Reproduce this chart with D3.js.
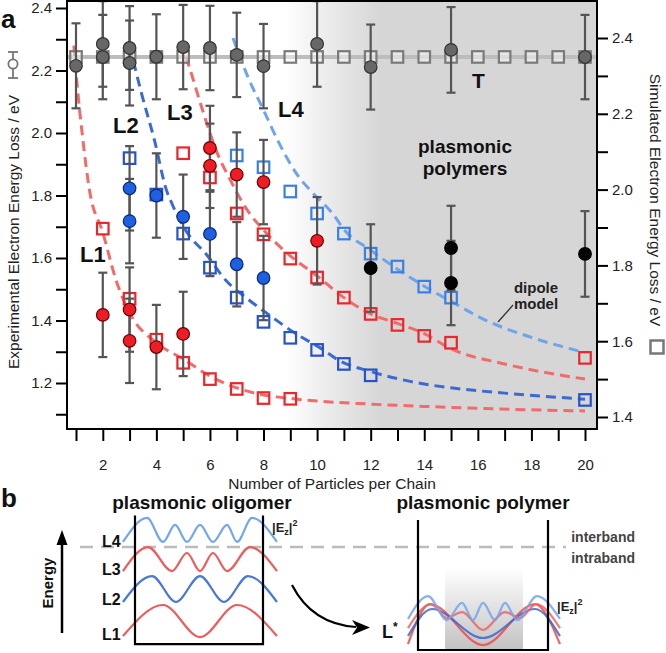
<!DOCTYPE html>
<html><head><meta charset="utf-8">
<script src="https://cdn.jsdelivr.net/npm/d3@7"></script>
<style>
body{margin:0;background:#fff}
svg{display:block}
text{font-family:"Liberation Sans",Arial,Helvetica,sans-serif}
</style>
</head><body>
<svg id="c" width="666" height="653"></svg>
<script>
// ---------------- DATA ----------------
const xTicks = [1,2,3,4,5,6,7,8,9,10,11,12,13,14,15,16,17,18,19,20];
const xTickLabels = [2,4,6,8,10,12,14,16,18,20];
const yLeftTicks = [1.1,1.2,1.3,1.4,1.5,1.6,1.7,1.8,1.9,2.0,2.1,2.2,2.3,2.4];
const yLeftLabels = [1.2,1.4,1.6,1.8,2.0,2.2,2.4];
const yRightTicks = [1.4,1.5,1.6,1.7,1.8,1.9,2.0,2.1,2.2,2.3,2.4];
const yRightLabels = [1.4,1.6,1.8,2.0,2.2,2.4];

// experimental (left axis), circles with error bars
const expT_n   = [1,2,2,3,3,4,5,6,7,8,10,12,15,20];
const expT_v   = [2.215,2.285,2.243,2.272,2.224,2.244,2.275,2.272,2.25,2.214,2.285,2.211,2.266,2.243];
const expT_e   = [0.136,0.137,0.135,0.134,0.136,0.136,0.135,0.135,0.135,0.135,0.137,0.136,0.137,0.135];
const expRed_n = [2,3,3,4,5,6,6,7,8,10];
const expRed_v = [1.418,1.435,1.335,1.315,1.357,1.952,1.895,1.867,1.843,1.655];
const expRed_e = [0.135,0.135,0.135,0.135,0.135,0.135,0.135,0.135,0.135,0.14];
const expBlue_n = [3,3,4,5,6,7,8];
const expBlue_v = [1.823,1.718,1.80,1.732,1.677,1.58,1.536];
const expBlue_e = [0.135,0.135,0.135,0.135,0.135,0.135,0.135];
const expBlack_n = [12,15,15,20];
const expBlack_v = [1.568,1.632,1.52,1.613];
const expBlack_e = [0.14,0.135,0.135,0.137];

// simulated (right axis), open squares
const simT_n  = [1,2,3,4,5,6,7,8,9,10,11,12,13,14,15,16,17,18,19,20];
const simT_v  = [2.35,2.35,2.35,2.35,2.35,2.35,2.35,2.35,2.35,2.35,2.35,2.35,2.35,2.35,2.35,2.35,2.35,2.35,2.35,2.35];
const simL1_n = [2,3,4,5,6,7,8,9];
const simL1_v = [1.897,1.712,1.604,1.543,1.50,1.474,1.45,1.448];
const simL2_n = [3,4,5,6,7,8,9,10,11,12,20];
const simL2_v = [2.083,1.987,1.884,1.794,1.715,1.651,1.609,1.577,1.54,1.51,1.445];
const simL3_n = [5,6,7,8,9,10,11,12,13,14,15,20];
const simL3_v = [2.096,2.032,1.937,1.882,1.818,1.768,1.715,1.672,1.643,1.614,1.596,1.556];
const simL4_n = [7,8,9,10,11,12,13,14,15];
const simL4_v = [2.09,2.059,1.995,1.937,1.884,1.831,1.797,1.744,1.715];

// dipole model curves (right axis)
const dipL1_n = [0.92,1.0,1.26,1.5,2,2.5,3,4,5,6,7,8,9,10,12,14,16,18,20];
const dipL1_v = [2.38,2.31,2.13,2.0,1.887,1.76,1.675,1.596,1.553,1.508,1.477,1.458,1.449,1.442,1.434,1.428,1.423,1.419,1.416];
const dipL2_n = [3.0,3.46,3.93,4.37,4.6,5.1,5.9,6.6,7.4,8.35,9.2,10.1,10.85,12,14,15,17,20];
const dipL2_v = [2.38,2.25,2.13,2.0,1.96,1.892,1.826,1.76,1.712,1.662,1.62,1.583,1.548,1.52,1.487,1.477,1.463,1.447];
const dipL3_n = [4.92,5.2,5.75,6.2,6.8,7.4,8,9,10,11,12,13,14,15,17,20];
const dipL3_v = [2.39,2.33,2.204,2.109,2.02,1.945,1.893,1.825,1.772,1.715,1.672,1.647,1.62,1.58,1.54,1.50];
const dipL4_n = [6.86,7.4,8,8.6,9.25,9.85,10.6,11,12,13,14,15,16.3,18,20];
const dipL4_v = [2.4,2.3,2.21,2.12,2.04,1.99,1.935,1.895,1.84,1.79,1.745,1.705,1.655,1.61,1.57];

// panel b schematic waves: position along chain (0..1) and schematic energy (0..1)
const oligo_levels = ["L1","L2","L3","L4"];
const oL1_u = [-0.094,0.219,0.508,0.797,1.109];
const oL1_e = [0.101,0.326,0.094,0.326,0.101];
const oL2_u = [-0.094,0.133,0.320,0.508,0.695,0.883,1.109];
const oL2_e = [0.348,0.536,0.348,0.536,0.348,0.536,0.348];
const oL3_u = [-0.094,0.102,0.289,0.406,0.508,0.609,0.719,0.898,1.109];
const oL3_e = [0.572,0.746,0.572,0.703,0.572,0.703,0.572,0.746,0.572];
const oL4_u = [-0.094,0.094,0.219,0.313,0.406,0.508,0.609,0.719,0.797,0.914,1.109];
const oL4_e = [0.783,0.957,0.783,0.906,0.783,0.906,0.783,0.906,0.783,0.957,0.783];
const pA_u = [-0.077,0.077,0.223,0.338,0.423,0.5,0.592,0.669,0.762,0.915,1.092];
const pA_e = [0.225,0.391,0.217,0.341,0.217,0.341,0.217,0.341,0.217,0.391,0.225];
const pB_u = [-0.077,0.108,0.5,0.9,1.092];
const pB_e = [0.101,0.297,0.087,0.297,0.101];
const pR1_u = [-0.077,0.092,0.5,0.9,1.092];
const pR1_e = [0.043,0.333,0.036,0.333,0.043];
const pR2_u = [-0.077,0.1,0.223,0.338,0.5,0.669,0.785,0.908,1.092];
const pR2_e = [0.159,0.333,0.232,0.275,0.145,0.275,0.232,0.333,0.159];

// ---------------- DRAW ----------------
const svg = d3.select("#c");
const P = {l:67, r:597, t:1, b:429};
const x  = d3.scaleLinear().domain([1,20]).range([76,585]);
const yL = d3.scaleLinear().domain([1.2,2.4]).range([383,8]);
const yR = d3.scaleLinear().domain([1.4,2.4]).range([417,38]);
const zip = (a,b,c) => a.map((d,i)=>c?[d,b[i],c[i]]:[d,b[i]]);

const defs = svg.append("defs");
const g1 = defs.append("linearGradient").attr("id","shade")
  .attr("gradientUnits","userSpaceOnUse").attr("x1",x(8.8)).attr("x2",x(12.4)).attr("y1",0).attr("y2",0);
g1.append("stop").attr("offset",0).attr("stop-color","#ffffff");
g1.append("stop").attr("offset",0.5).attr("stop-color","#e9e9e9");
g1.append("stop").attr("offset",1).attr("stop-color","#d6d6d6");
defs.append("clipPath").attr("id","clip").append("rect")
  .attr("x",P.l).attr("y",P.t).attr("width",P.r-P.l).attr("height",P.b-P.t);
const g2 = defs.append("linearGradient").attr("id","vshade").attr("x1",0).attr("x2",0).attr("y1",0).attr("y2",1);
g2.append("stop").attr("offset",0).attr("stop-color","#ffffff");
g2.append("stop").attr("offset",1).attr("stop-color","#c2c2c2");

svg.append("rect").attr("x",P.l).attr("y",P.t).attr("width",P.r-P.l).attr("height",P.b-P.t).attr("fill","url(#shade)");

const plot = svg.append("g").attr("clip-path","url(#clip)");

plot.append("line").attr("x1",P.l).attr("x2",P.r).attr("y1",yR(2.35)).attr("y2",yR(2.35))
  .attr("stroke","#bdbdbd").attr("stroke-width",4);

const lineR = d3.line().x(d=>x(d[0])).y(d=>yR(d[1])).curve(d3.curveMonotoneX);
[[dipL1_n,dipL1_v,"#f26b6b"],[dipL2_n,dipL2_v,"#3b6bd2"],[dipL3_n,dipL3_v,"#f26b6b"],[dipL4_n,dipL4_v,"#6fa4ec"]]
 .forEach(([n,v,c])=>{
  plot.append("path").attr("d",lineR(zip(n,v))).attr("fill","none").attr("stroke",c)
   .attr("stroke-width",3).attr("stroke-dasharray","10,6");
 });

const sq = 11.5;
function squares(n,v,color,fill,fo){
  plot.append("g").selectAll("rect").data(zip(n,v)).join("rect")
   .attr("x",d=>x(d[0])-sq/2).attr("y",d=>yR(d[1])-sq/2).attr("width",sq).attr("height",sq)
   .attr("fill",fill).attr("fill-opacity",fo).attr("stroke",color).attr("stroke-width",2.2);
}
squares(simT_n,simT_v,"#7a7a7a","#ffffff",0.45);
squares(simL1_n,simL1_v,"#e8262b","none",1);
squares(simL3_n,simL3_v,"#e8262b","none",1);
squares(simL2_n,simL2_v,"#2453cc","none",1);
squares(simL4_n,simL4_v,"#3a80e4","none",1);

function expSeries(n,v,e){
  const d = zip(n,v,e);
  const g = plot.append("g");
  g.selectAll("line.v").data(d).join("line").attr("class","v")
   .attr("x1",d=>x(d[0])).attr("x2",d=>x(d[0])).attr("y1",d=>yL(d[1]-d[2])).attr("y2",d=>yL(d[1]+d[2]))
   .attr("stroke","#555").attr("stroke-width",2.2);
  [1,-1].forEach(s=>{
    g.selectAll("line.c"+(s>0?"p":"m")).data(d).join("line").attr("class","c"+(s>0?"p":"m"))
     .attr("x1",d=>x(d[0])-4.5).attr("x2",d=>x(d[0])+4.5)
     .attr("y1",d=>yL(d[1]+s*d[2])).attr("y2",d=>yL(d[1]+s*d[2]))
     .attr("stroke","#555").attr("stroke-width",2.2);
  });
}
expSeries(expT_n,expT_v,expT_e);
expSeries(expRed_n,expRed_v,expRed_e);
expSeries(expBlue_n,expBlue_v,expBlue_e);
expSeries(expBlack_n,expBlack_v,expBlack_e);
function dots(n,v,fill,stroke){
  plot.append("g").selectAll("circle").data(zip(n,v)).join("circle")
   .attr("cx",d=>x(d[0])).attr("cy",d=>yL(d[1])).attr("r",6.3)
   .attr("fill",fill).attr("stroke",stroke).attr("stroke-width",1.2);
}
dots(expT_n,expT_v,"#676767","#333");
dots(expRed_n,expRed_v,"#ee1c24","#6a0000");
dots(expBlue_n,expBlue_v,"#1f5fe2","#0b2a7a");
dots(expBlack_n,expBlack_v,"#050505","#000");

svg.append("rect").attr("x",P.l).attr("y",P.t).attr("width",P.r-P.l).attr("height",P.b-P.t)
  .attr("fill","none").attr("stroke","#000").attr("stroke-width",2);

const fmt = d3.format(".1f");
const has = (arr,d)=>arr.some(a=>Math.abs(a-d)<1e-6);
const axL = svg.append("g").attr("transform",`translate(${P.l},0)`)
  .call(d3.axisLeft(yL).tickValues(yLeftTicks).tickSize(11).tickSizeOuter(0).tickPadding(4)
   .tickFormat(d=>has(yLeftLabels,d)?fmt(d):""));
const axR = svg.append("g").attr("transform",`translate(${P.r},0)`)
  .call(d3.axisRight(yR).tickValues(yRightTicks).tickSize(11).tickSizeOuter(0).tickPadding(4)
   .tickFormat(d=>has(yRightLabels,d)?fmt(d):""));
const axB = svg.append("g").attr("transform",`translate(0,${P.b})`)
  .call(d3.axisBottom(x).tickValues(xTicks).tickSize(12).tickSizeOuter(0).tickPadding(18)
   .tickFormat(d=>xTickLabels.includes(d)?d:""));
[axL,axR,axB].forEach(a=>{
  a.select(".domain").remove();
  a.selectAll(".tick line").attr("stroke","#000").attr("stroke-width",2);
  a.selectAll(".tick text").attr("font-size",15).attr("fill","#222")
    .style("font-family","'Liberation Sans',Arial,sans-serif");
});

svg.append("text").attr("transform","translate(19,232) rotate(-90)").attr("text-anchor","middle")
  .attr("font-size",15.5).attr("fill","#222").text("Experimental Electron Energy Loss / eV");
const sym = svg.append("g").attr("stroke","#777").attr("stroke-width",1.8);
sym.append("line").attr("x1",13).attr("x2",13).attr("y1",52).attr("y2",78);
sym.append("line").attr("x1",8).attr("x2",18).attr("y1",52).attr("y2",52);
sym.append("line").attr("x1",8).attr("x2",18).attr("y1",78).attr("y2",78);
sym.append("circle").attr("cx",13).attr("cy",64).attr("r",4.6).attr("fill","#fff");

svg.append("text").attr("transform","translate(650,200) rotate(90)").attr("text-anchor","middle")
  .attr("font-size",15.5).attr("fill","#222").text("Simulated Electron Energy Loss / eV");
svg.append("rect").attr("x",650.5).attr("y",340.5).attr("width",13).attr("height",13)
  .attr("fill","#fff").attr("stroke","#777").attr("stroke-width",2.5);

svg.append("text").attr("x",332).attr("y",489).attr("text-anchor","middle")
  .attr("font-size",15.5).attr("fill","#222").text("Number of Particles per Chain");

const bold = (t,xx,yy,fs,anchor,fill)=>svg.append("text").attr("x",xx).attr("y",yy)
  .attr("font-size",fs).attr("font-weight","bold").attr("text-anchor",anchor||"start")
  .attr("fill",fill||"#111").text(t);
bold("a",1,28,26);
bold("L1",80,262,22);
bold("L2",113,133,22);
bold("L3",167,120,22);
bold("L4",278,117,22);
bold("T",472,88,21);
bold("plasmonic",465,153,19,"middle");
bold("polymers",465,175,19,"middle");
bold("dipole",536,293,15,"middle","#222");
bold("model",536,309,15,"middle","#222");
svg.append("line").attr("x1",513).attr("y1",305).attr("x2",498).attr("y2",322)
  .attr("stroke","#333").attr("stroke-width",1.3);

// ---------------- PANEL B ----------------
const xo = d3.scaleLinear().domain([0,1]).range([135,263]);
const xp = d3.scaleLinear().domain([0,1]).range([418,548]);
const yb = d3.scaleLinear().domain([0,1]).range([650,512]);

bold("b",1,507,26);
bold("plasmonic oligomer",202,509,19,"middle");
bold("plasmonic polymer",483,509,19,"middle");

svg.append("rect").attr("x",xp(0.208)).attr("width",xp(0.808)-xp(0.208))
  .attr("y",yb(0.6)).attr("height",yb(0)-yb(0.6)).attr("fill","url(#vshade)");

svg.append("line").attr("x1",80).attr("x2",566).attr("y1",yb(0.746)).attr("y2",yb(0.746))
  .attr("stroke","#bcbcbc").attr("stroke-width",2.5).attr("stroke-dasharray","13,8");

const lo = d3.line().x(d=>xo(d[0])).y(d=>yb(d[1])).curve(d3.curveMonotoneX);
const lp = d3.line().x(d=>xp(d[0])).y(d=>yb(d[1])).curve(d3.curveMonotoneX);
[[oL1_u,oL1_e,"#ef5b5b"],[oL2_u,oL2_e,"#4a78d9"],[oL3_u,oL3_e,"#ef5b5b"],[oL4_u,oL4_e,"#74a6ee"]]
 .forEach(([u,e,c])=>svg.append("path").attr("d",lo(zip(u,e))).attr("fill","none")
   .attr("stroke",c).attr("stroke-width",2.2));
[[pR1_u,pR1_e,"#ef4a4a"],[pB_u,pB_e,"#3e67cc"],[pR2_u,pR2_e,"#f06464"],[pA_u,pA_e,"#72a3ec"]]
 .forEach(([u,e,c])=>svg.append("path").attr("d",lp(zip(u,e))).attr("fill","none")
   .attr("stroke",c).attr("stroke-width",2.2).attr("stroke-opacity",0.85));

svg.append("path").attr("d",`M${xo(0)},${yb(0.975)}V${yb(0.043)}H${xo(1)}V${yb(0.975)}`)
  .attr("fill","none").attr("stroke","#000").attr("stroke-width",2.2);
svg.append("path").attr("d",`M${xp(0)},${yb(0.942)}V${yb(0)}H${xp(1)}V${yb(0.942)}`)
  .attr("fill","none").attr("stroke","#000").attr("stroke-width",2.2);

svg.append("line").attr("x1",62).attr("x2",62).attr("y1",633).attr("y2",542)
  .attr("stroke","#000").attr("stroke-width",2.5);
svg.append("path").attr("d","M62,530 L56.5,545 L67.5,545 Z").attr("fill","#000");
svg.append("text").attr("transform","translate(53,583) rotate(-90)").attr("text-anchor","middle")
  .attr("font-size",15).attr("font-weight","bold").attr("fill","#111").text("Energy");

oligo_levels.forEach((t,i)=>bold(t,102,[640,605,575,547][i],16));

function ez(xx,yy){
  const t = svg.append("text").attr("x",xx).attr("y",yy).attr("font-size",13).attr("font-weight","bold").attr("fill","#222");
  t.append("tspan").text("|E");
  t.append("tspan").attr("font-size",9).attr("dy",3).text("z");
  t.append("tspan").attr("dy",-3).text("|");
  t.append("tspan").attr("font-size",9).attr("dy",-6).text("2");
}
ez(272,532);
ez(557,611);

svg.append("text").attr("x",635).attr("y",542).attr("text-anchor","end").attr("font-size",14)
  .attr("font-weight","bold").attr("fill","#444").text("interband");
svg.append("text").attr("x",635).attr("y",563).attr("text-anchor","end").attr("font-size",14)
  .attr("font-weight","bold").attr("fill","#444").text("intraband");

svg.append("path").attr("d","M292,585 Q312,624 356,627").attr("fill","none").attr("stroke","#000").attr("stroke-width",2.2);
svg.append("path").attr("d","M370,627.5 L352,620 L357,627.5 L352,635 Z").attr("fill","#000");

const ls = svg.append("text").attr("x",382).attr("y",638).attr("font-size",18).attr("font-weight","bold").attr("fill","#111");
ls.append("tspan").text("L");
ls.append("tspan").attr("font-size",12).attr("dy",-7).text("*");
</script>
</body></html>
